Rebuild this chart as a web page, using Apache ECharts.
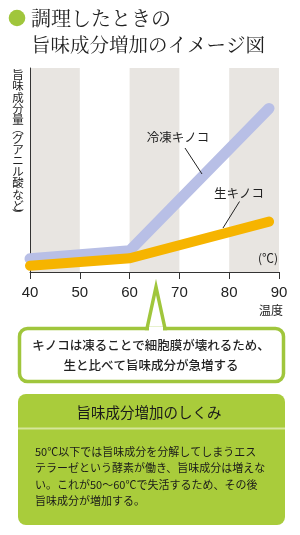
<!DOCTYPE html>
<html><head><meta charset="utf-8">
<script src="https://cdn.jsdelivr.net/npm/echarts@6/dist/echarts.min.js"></script>
<style>html,body{margin:0;padding:0;background:#fff}#c{width:300px;height:535px}</style>
</head><body><div id="c"></div>
<script>
// Data
const temps = [40, 60, 88];
const frozenValues = [6.5, 10.4, 80.2];
const rawValues = [3.1, 6.7, 24.7];
const xTickLabels = ['40', '50', '60', '70', '80', '90'];
const seriesNames = ['冷凍キノコ', '生キノコ'];
const titleLines = ['調理したときの', '旨味成分増加のイメージ図'];
const yAxisName = '旨味成分量︵グアニル酸など︶';
const calloutLines = ['キノコは凍ることで細胞膜が壊れるため、', '生と比べて旨味成分が急増する'];
const boxTitle = '旨味成分増加のしくみ';
const boxLines = ['50℃以下では旨味成分を分解してしまうエス', 'テラーゼという酵素が働き、旨味成分は増えな', 'い。これが50〜60℃で失活するため、その後', '旨味成分が増加する。'];

const FONT = '"Noto Sans CJK JP", "Noto Sans", sans-serif';
const GREEN = '#a0c63c';

const chart = echarts.init(document.getElementById('c'), null, {renderer: 'canvas'});

function txt(x, y, text, size, align, vAlign, extra) {
  return {type: 'text', z: 100, x: x, y: y, style: Object.assign({
    text: text, fontSize: size, fontFamily: FONT, align: align, verticalAlign: vAlign, fill: '#222'
  }, extra || {})};
}

// vertical axis name: one glyph per element, stacked
const yNameChars = yAxisName.split('');
const yNameEls = [];
let yy = 69;
yNameChars.forEach(function (ch) {
  const isParen = (ch === '︵' || ch === '︶');
  const step = isParen ? 7.5 : 11.2;
  const el = txt(18, isParen ? yy - 2.5 : yy, ch, 11.5, 'center', 'top');
  yNameEls.push(el);
  yy += step;
});

const option = {
  animation: false,
  backgroundColor: '#fff',
  grid: {left: 30, right: 21, top: 68, bottom: 263, containLabel: false},
  xAxis: {
    type: 'value', min: 40, max: 90, interval: 10,
    axisLine: {show: true, lineStyle: {color: '#333', width: 1}},
    axisTick: {show: true, length: 7, lineStyle: {color: '#333'}},
    axisLabel: {
      margin: 13, color: '#222', fontSize: 15, fontFamily: 'Liberation Sans, Arial, sans-serif',
      formatter: function (v) { const i = xTickLabels.indexOf(String(v)); return i >= 0 ? xTickLabels[i] : ''; }
    },
    splitLine: {show: false},
    splitArea: {show: true, areaStyle: {color: ['#e8e5e1', 'rgba(255,255,255,0)']}}
  },
  yAxis: {
    type: 'value', min: 0, max: 100,
    axisLine: {show: true, lineStyle: {color: '#333', width: 1}},
    axisTick: {show: false}, axisLabel: {show: false}, splitLine: {show: false}
  },
  series: [
    {
      name: seriesNames[0], type: 'line', symbol: 'none', clip: true,
      data: temps.map((t, i) => [t, frozenValues[i]]),
      lineStyle: {color: '#b8bfe6', width: 11, cap: 'round', join: 'miter'}
    },
    {
      name: seriesNames[1], type: 'line', symbol: 'none', clip: true,
      data: temps.map((t, i) => [t, rawValues[i]]),
      lineStyle: {color: '#f6b400', width: 10, cap: 'round', join: 'miter'}
    }
  ],
  graphic: [
    // title
    {type: 'circle', z: 100, shape: {cx: 17, cy: 18, r: 8.3}, style: {fill: GREEN}},
    txt(31, 18, titleLines[0], 20, 'left', 'middle', {fontFamily: '"Noto Serif CJK JP", "Noto Sans CJK JP", serif'}),
    txt(31, 45, titleLines[1], 19.5, 'left', 'middle', {fontFamily: '"Noto Serif CJK JP", "Noto Sans CJK JP", serif'}),
    // unit
    txt(268, 258, '(℃)', 12, 'center', 'middle'),
    txt(283, 310.5, '温度', 12, 'right', 'middle'),
    // series labels + leaders
    txt(178, 137, seriesNames[0], 12.5, 'center', 'middle'),
    {type: 'line', z: 100, shape: {x1: 185, y1: 148, x2: 202, y2: 174}, style: {stroke: '#222', lineWidth: 1}},
    txt(239, 193, seriesNames[1], 12.5, 'center', 'middle'),
    {type: 'line', z: 100, shape: {x1: 239.5, y1: 201.5, x2: 223, y2: 228}, style: {stroke: '#222', lineWidth: 1}},
    // callout
    {type: 'rect', z: 100, shape: {x: 19.5, y: 328.5, width: 264, height: 53, r: 8}, style: {fill: '#fff', stroke: GREEN, lineWidth: 3.5}},
    {type: 'polygon', z: 101, shape: {points: [[147, 328.5], [156, 287], [165, 328.5]]}, style: {fill: '#fff', stroke: GREEN, lineWidth: 3.5, lineJoin: 'miter'}},
    {type: 'rect', z: 102, shape: {x: 149, y: 327, width: 14, height: 5}, style: {fill: '#fff'}},
    txt(151, 345.5, calloutLines[0], 12.5, 'center', 'middle', {fontWeight: 500}),
    txt(151, 365, calloutLines[1], 12.5, 'center', 'middle', {fontWeight: 500}),
    // green info box
    {type: 'rect', z: 100, shape: {x: 18, y: 394, width: 267, height: 131, r: 8}, style: {fill: '#a9cc3b'}},
    {type: 'rect', z: 101, shape: {x: 18, y: 427.5, width: 267, height: 2}, style: {fill: '#d6e69a'}},
    txt(149, 412.5, boxTitle, 14.5, 'center', 'middle', {fill: '#1a1a1a'}),
    txt(35, 443.5, boxLines.join('\n'), 11, 'left', 'top', {lineHeight: 16.5, fill: '#1a1a1a'})
  ].concat(yNameEls)
};
chart.setOption(option);
</script></body></html>
